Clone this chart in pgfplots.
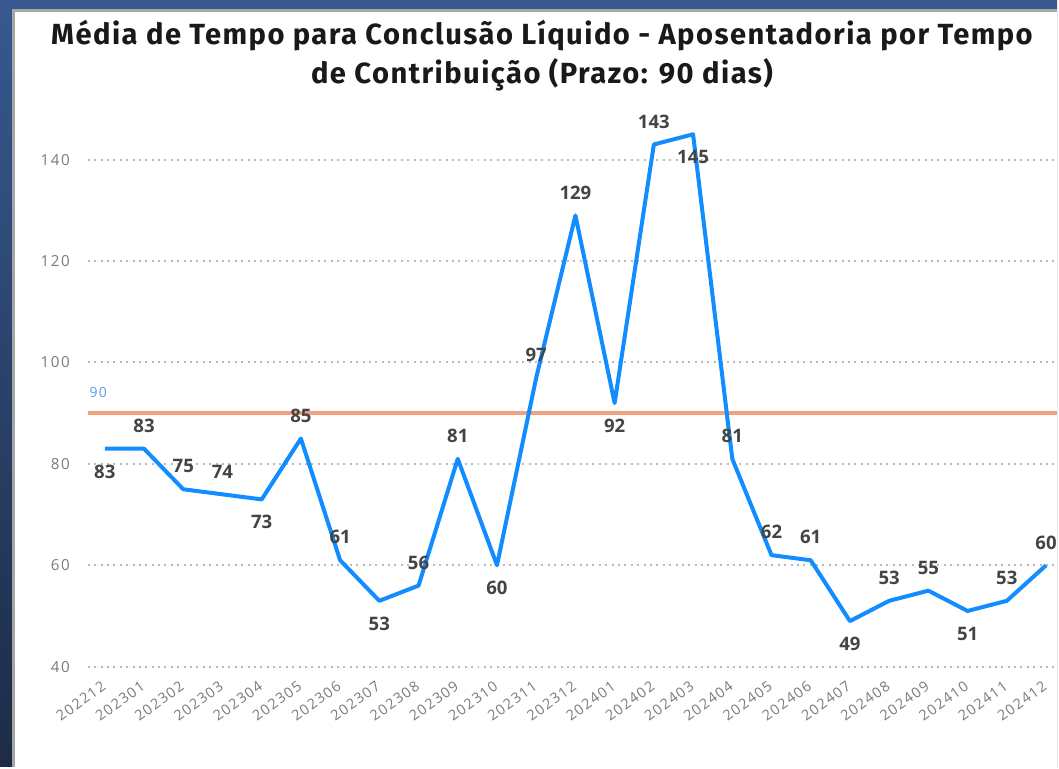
\documentclass[border=0pt]{standalone}
\usepackage{pgfplots}
\pgfplotsset{compat=1.18}
\usepackage{fontspec}
\setmainfont{Open Sans}
\newfontfamily\titlefont[LetterSpace=5]{Fira Sans}
\newfontfamily\tickfont[LetterSpace=10]{Open Sans}

\definecolor{pbiblue}{HTML}{118DFF}
\definecolor{goal}{HTML}{F2A080}
\definecolor{goaltxt}{HTML}{5B9BF2}
\definecolor{frametop}{HTML}{37598F}
\definecolor{framebot}{HTML}{1D2B46}
\definecolor{lbl}{HTML}{444444}
\definecolor{ticktxt}{HTML}{7A7A7A}

% idx = month (0 = 202212), pos = label above (1) or below (-1)
\pgfplotstableread{
idx val pos
0  83  -1
1  83   1
2  75   1
3  74   1
4  73  -1
5  85   1
6  61   1
7  53  -1
8  56   1
9  81   1
10 60  -1
11 97   1
12 129  1
13 92  -1
14 143  1
15 145 -1
16 81   1
17 62   1
18 61   1
19 49  -1
20 53   1
21 55   1
22 51  -1
23 53   1
24 60   1
}\media

\begin{document}
\begin{tikzpicture}[x=0.5pt,y=0.5pt]
% frame
\shade[top color=frametop, bottom color=framebot] (0,0) rectangle (1059,768);
\fill[white] (14,0) rectangle (1059,757);
\draw[color=gray!70, line width=1.5pt] (14,0) -- (14,757) -- (1059,757);

\node[font=\titlefont\bfseries\fontsize{14.6}{18}\selectfont, anchor=base, text=black!90, inner sep=0pt]
  at (543,723) {Média de Tempo para Conclusão Líquido - Aposentadoria por Tempo};
\node[font=\titlefont\bfseries\fontsize{14.6}{18}\selectfont, anchor=base, text=black!90, inner sep=0pt]
  at (543,684) {de Contribuição (Prazo: 90 dias)};

\begin{axis}[
  at={(44pt,50pt)}, anchor=south west,
  scale only axis,
  width=485.5pt, height=269.25pt,
  xmin=-0.433, xmax=24.28,
  ymin=40, ymax=146,
  clip=false,
  axis line style={draw=none},
  major tick length=0pt,
  ytick={40,60,...,140},
  ymajorgrids,
  grid style={color=gray!55, line width=1pt, dash pattern=on 1pt off 2.2pt},
  yticklabel style={font=\tickfont\fontsize{7.6}{8}\selectfont, text=ticktxt, anchor=east, xshift=-5.5pt},
  /pgf/number format/assume math mode=true,
  xtick={0,...,24},
  xticklabels={202212,202301,202302,202303,202304,202305,202306,202307,202308,202309,202310,202311,202312,202401,202402,202403,202404,202405,202406,202407,202408,202409,202410,202411,202412},
  xticklabel style={font=\tickfont\fontsize{7.2}{8}\selectfont, text=ticktxt, rotate=36, anchor=north east, inner sep=1pt, xshift=-4.5pt, yshift=-3pt},
]
\addplot[goal, line width=2pt, no marks] coordinates {(-0.433,90) (24.28,90)};
\node[font=\tickfont\fontsize{7}{8}\selectfont, text=goaltxt, anchor=south west, inner sep=0pt] at (axis cs:-0.4,93) {90};
\addplot[pbiblue, line width=2pt, no marks, line join=round,
  nodes near coords,
  point meta=y,
  visualization depends on={\thisrow{pos}\as\lblpos},
  every node near coord/.append style={font=\bfseries\fontsize{9.3}{10}\selectfont, text=lbl, anchor=center, yshift=\lblpos*11.5pt, overlay},
  /pgf/number format/assume math mode=true,
] table[x=idx, y=val] {\media};
\end{axis}
\end{tikzpicture}
\end{document}
